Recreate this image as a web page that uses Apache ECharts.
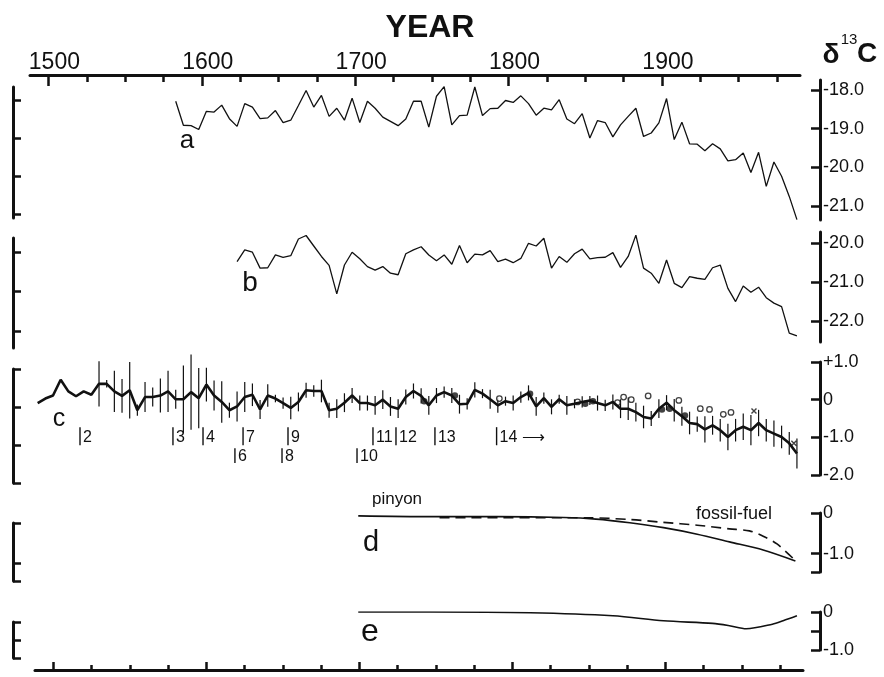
<!DOCTYPE html>
<html>
<head>
<meta charset="utf-8">
<script src="https://cdn.jsdelivr.net/npm/echarts@6/dist/echarts.min.js"></script>
<style>
  html, body { margin: 0; padding: 0; background: #fff; }
  #chart { width: 884px; height: 677px; }
</style>
</head>
<body>
<div id="chart"></div>
<script>
// ---- data ----
const centuryTicks = [1500, 1600, 1700, 1800, 1900];
const quarterTicks = [1525, 1550, 1575, 1625, 1650, 1675, 1725, 1750, 1775,
  1825, 1850, 1875, 1925, 1950, 1975];

// curve a: 5-year samples starting 1583
const aStart = 1583;
const aValues = [
  -18.29, -18.91, -18.92, -19.02, -18.55, -18.57, -18.39, -18.74, -18.94, -18.35,
  -18.44, -18.74, -18.72, -18.53, -18.84, -18.78, -18.40, -18.01, -18.44, -18.14,
  -18.68, -18.47, -18.78, -18.21, -18.84, -18.29, -18.47, -18.70, -18.81, -18.92,
  -18.75, -18.29, -18.29, -18.96, -18.16, -17.91, -18.90, -18.66, -18.65, -17.92,
  -18.66, -18.48, -18.47, -18.27, -18.32, -18.15, -18.35, -18.65, -18.47, -18.51,
  -18.25, -18.75, -18.87, -18.61, -19.24, -18.79, -18.84, -19.21, -18.90, -18.68,
  -18.47, -19.20, -19.11, -18.85, -18.22, -19.28, -18.83, -19.39, -19.40, -19.57,
  -19.39, -19.52, -19.83, -19.80, -19.63, -20.13, -19.61, -20.49, -19.86, -20.23,
  -20.75, -21.35
];

// curve b: 5-year samples starting 1623
const bStart = 1623;
const bValues = [
  -20.47, -20.17, -20.23, -20.64, -20.63, -20.30, -20.36, -20.32, -19.89, -19.80,
  -20.07, -20.34, -20.57, -21.30, -20.56, -20.23, -20.40, -20.60, -20.69, -20.60,
  -20.77, -20.81, -20.27, -20.17, -20.09, -20.30, -20.45, -20.30, -20.54, -20.06,
  -20.50, -20.28, -20.30, -20.19, -20.47, -20.41, -20.50, -20.39, -20.00, -20.07,
  -19.87, -20.64, -20.34, -20.49, -20.27, -20.15, -20.40, -20.37, -20.36, -20.24,
  -20.62, -20.34, -19.79, -20.64, -20.77, -21.03, -20.43, -21.03, -21.14, -20.86,
  -20.90, -20.93, -20.63, -20.56, -21.16, -21.50, -21.10, -21.26, -21.13, -21.40,
  -21.54, -21.63, -22.31, -22.38
];

// curve c: 5-year samples starting 1493, with half error bars
const cStart = 1493;
const cValues = [
  -0.09, 0.03, 0.11, 0.53, 0.22, 0.09, 0.22, 0.13, 0.42, 0.42,
  0.22, 0.10, 0.25, -0.28, 0.07, 0.07, 0.11, 0.22, 0.01, 0.01,
  0.20, 0.04, 0.40, 0.11, -0.06, -0.28, -0.18, 0.07, 0.13, -0.26,
  0.11, 0.03, -0.09, -0.22, -0.06, 0.25, 0.23, 0.23, -0.28, -0.24,
  -0.08, 0.11, -0.09, -0.09, -0.15, 0.00, -0.18, -0.24, 0.07, 0.23,
  0.10, -0.15, 0.11, 0.20, 0.11, -0.12, -0.11, 0.26, 0.16, 0.01,
  -0.15, -0.04, -0.09, 0.07, 0.18, -0.18, 0.04, -0.19, 0.01, -0.15,
  -0.11, -0.06, -0.02, -0.09, -0.15, -0.06, -0.24, -0.24, -0.33, -0.46,
  -0.50, -0.24, -0.08, -0.28, -0.44, -0.62, -0.65, -0.79, -0.68, -0.81,
  -0.99, -0.81, -0.72, -0.81, -0.62, -0.81, -0.90, -0.99, -1.16, -1.43
];
const cErrors = [
  0, 0, 0, 0, 0, 0, 0, 0, 0.6, 0.1,
  0.55, 0.45, 0.75, 0.15, 0.4, 0.25, 0.45, 0.55, 0.25, 0.9,
  1.0, 0.8, 0.45, 0.4, 0.55, 0.2, 0.4, 0.4, 0.3, 0.25,
  0.3, 0.1, 0.15, 0.3, 0.25, 0.2, 0.15, 0.3, 0.2, 0.25,
  0.25, 0.2, 0.2, 0.2, 0.25, 0.25, 0.25, 0.25, 0.2, 0.2,
  0.2, 0.25, 0.2, 0.15, 0.2, 0.25, 0.15, 0.2, 0.12, 0.25,
  0.2, 0.12, 0.2, 0.15, 0.2, 0.25, 0.15, 0.2, 0.12, 0.25,
  0.12, 0.15, 0.12, 0.2, 0.15, 0.2, 0.25, 0.3, 0.25, 0.3,
  0.2, 0.25, 0.2, 0.3, 0.25, 0.3, 0.2, 0.35, 0.25, 0.3,
  0.35, 0.3, 0.35, 0.4, 0.35, 0.3, 0.35, 0.3, 0.3, 0.4
];

// extra points on c
const dotYears = [1745, 1765, 1814, 1850, 1855, 1900, 1905, 1915];
const dotValues = [-0.04, 0.11, 0.16, -0.11, -0.04, -0.26, -0.24, -0.42];
const ringYears = [1794, 1845, 1871, 1875, 1880, 1891, 1911, 1925, 1931, 1940, 1945];
const ringValues = [0.03, -0.06, -0.08, 0.07, 0.0, 0.10, -0.02, -0.24, -0.26, -0.39, -0.34];
const crossYears = [1960, 1986];
const crossValues = [-0.30, -1.16];

// numbered markers under c (row 0 = upper, row 1 = lower)
const markYears = [1520.6, 1581.2, 1600.8, 1621.6, 1626.9, 1652.3, 1656.2, 1701.2, 1711.6, 1726.6, 1752, 1792.2];
const markRows = [0, 0, 0, 1, 0, 1, 0, 1, 0, 0, 0, 0];
const markLabels = ['2', '3', '4', '6', '7', '8', '9', '10', '11', '12', '13', '14 \u27f6'];

// d: pinyon and fossil-fuel curves
const pinyonYears = [1702, 1749, 1792, 1836, 1857, 1879, 1901, 1923, 1944, 1966, 1987];
const pinyonValues = [-0.07, -0.09, -0.09, -0.11, -0.15, -0.24, -0.36, -0.52, -0.71, -0.91, -1.18];
const fossilYears = [1755, 1851, 1879, 1901, 1923, 1944, 1957, 1966, 1975, 1987];
const fossilValues = [-0.115, -0.115, -0.16, -0.23, -0.30, -0.39, -0.44, -0.57, -0.76, -1.17];

// e
const eYears = [1702, 1749, 1814, 1868, 1901, 1933, 1944, 1955, 1972, 1979, 1988];
const eValues = [0, 0, -0.02, -0.10, -0.23, -0.30, -0.36, -0.44, -0.32, -0.23, -0.10];

// ---- chart ----
const ink = '#111';
const font = '"Liberation Sans", Arial, sans-serif';
const chart = echarts.init(document.getElementById('chart'));

const pairs = (xs, ys) => ys.map((v, i) => [xs[i], v]);
const sampled = (start, ys) => ys.map((v, i) => [start + 5 * i, v]);

const xBase = { type: 'value', min: 1488, max: 1990, splitLine: { show: false } };
const hiddenX = g => Object.assign({}, xBase, { gridIndex: g, show: false });

function rightAxis(g, min, max, ticks, labels, fmt) {
  return {
    type: 'value', gridIndex: g, position: 'right', offset: 20, min: min, max: max,
    axisLine: { show: true, onZero: false, lineStyle: { color: ink, width: 3 } },
    axisTick: { show: true, inside: true, length: 9, customValues: ticks, lineStyle: { color: ink, width: 2.5 } },
    axisLabel: { customValues: labels, margin: 3, formatter: fmt, fontSize: 18, color: ink, fontFamily: font },
    splitLine: { show: false }
  };
}
function leftAxis(g, min, max, ticks) {
  return {
    type: 'value', gridIndex: g, position: 'left', min: min, max: max,
    axisLine: { show: true, onZero: false, lineStyle: { color: ink, width: 3 } },
    axisTick: { show: true, inside: true, length: 8, customValues: ticks, lineStyle: { color: ink, width: 2.5 } },
    axisLabel: { show: false },
    splitLine: { show: false }
  };
}
const fix1 = v => v.toFixed(1);
const fixC = v => (v > 0 ? '+' + v.toFixed(1) : v === 0 ? '0' : v.toFixed(1));
const fixZ = v => (v === 0 ? '0' : v.toFixed(1));

const g = (left, right, top, height, width) => {
  const o = { left: left, top: top, height: height, outerBoundsMode: 'none' };
  if (width != null) o.width = width; else o.right = right;
  return o;
};

const lineStyleOf = w => ({ color: ink, width: w });

const option = {
  animation: false,
  backgroundColor: '#fff',
  textStyle: { fontFamily: font, color: ink },
  grid: [
    g(30, 84, 80, 140),   // a
    g(30, 84, 232, 110),  // b
    g(30, 84, 362, 113),  // c
    g(30, 84, 513, 59),   // d
    g(30, 84, 612, 38),   // e
    g(13, null, 87, 131, 60),
    g(13, null, 238, 110, 60),
    g(13, null, 369, 114, 60),
    g(13, null, 523, 58, 60),
    g(13, null, 622, 36, 60),
    g(35, 81, 620, 50)    // bottom year axis
  ],
  xAxis: [
    Object.assign({}, xBase, {
      gridIndex: 0, position: 'top', offset: 5,
      axisLine: { onZero: false, lineStyle: { color: ink, width: 3 } },
      axisTick: { inside: true, length: 11, customValues: centuryTicks, lineStyle: { color: ink, width: 2.5 } },
      axisLabel: {
        customValues: centuryTicks, margin: 1, fontSize: 23, color: ink, fontFamily: font,
        padding: [0, 0, 0, 12], formatter: v => String(v)
      }
    }),
    Object.assign({}, xBase, {
      gridIndex: 0, position: 'top', offset: 5,
      axisLine: { show: false },
      axisTick: { inside: true, length: 7, customValues: quarterTicks, lineStyle: { color: ink, width: 2.5 } },
      axisLabel: { show: false }
    }),
    hiddenX(1), hiddenX(2), hiddenX(3), hiddenX(4),
    hiddenX(5), hiddenX(6), hiddenX(7), hiddenX(8), hiddenX(9),
    Object.assign({}, xBase, {
      gridIndex: 10, position: 'bottom',
      axisLine: { onZero: false, lineStyle: { color: ink, width: 3 } },
      axisTick: { inside: true, length: 8, customValues: centuryTicks, lineStyle: { color: ink, width: 2.5 } },
      axisLabel: { show: false }
    }),
    Object.assign({}, xBase, {
      gridIndex: 10, position: 'bottom',
      axisLine: { show: false },
      axisTick: { inside: true, length: 5, customValues: quarterTicks, lineStyle: { color: ink, width: 2.5 } },
      axisLabel: { show: false }
    })
  ],
  yAxis: [
    rightAxis(0, -21.36, -17.74, [-18, -19, -20, -21], [-18, -19, -20, -21], fix1),
    rightAxis(1, -22.54, -19.71, [-20, -21, -22], [-20, -21, -22], fix1),
    rightAxis(2, -2, 1, [1, 0, -1, -2], [1, 0, -1, -2], fixC),
    rightAxis(3, -1.45, 0, [0, -1, -1.45], [0, -1], fixZ),
    rightAxis(4, -1, 0, [0, -0.5, -1], [0, -1], fixZ),
    leftAxis(5, -21.105, -17.66, [-18, -19, -20, -21]),
    leftAxis(6, -22.43, -19.65, [-20, -21, -22]),
    leftAxis(7, -2, 1, [1, 0, -1, -2]),
    leftAxis(8, -1.45, 0, [0, -1, -1.45]),
    leftAxis(9, -1, 0, [0, -0.5, -1]),
    { type: 'value', gridIndex: 10, show: false, min: 0, max: 1 }
  ],
  series: [
    {
      name: 'a', type: 'line', xAxisIndex: 0, yAxisIndex: 0, symbol: 'none', silent: true,
      data: sampled(aStart, aValues), lineStyle: lineStyleOf(1.3)
    },
    {
      name: 'b', type: 'line', xAxisIndex: 2, yAxisIndex: 1, symbol: 'none', silent: true,
      data: sampled(bStart, bValues), lineStyle: lineStyleOf(1.3)
    },
    {
      name: 'c errors', type: 'custom', xAxisIndex: 3, yAxisIndex: 2, silent: true,
      data: cValues.map((v, i) => [cStart + 5 * i, v, cErrors[i]]),
      renderItem: function (params, api) {
        const e = api.value(2);
        if (!e) return null;
        const x = api.value(0), v = api.value(1);
        const p1 = api.coord([x, v + e]);
        const p2 = api.coord([x, v - e]);
        return {
          type: 'line',
          shape: { x1: p1[0], y1: p1[1], x2: p2[0], y2: p2[1] },
          style: { stroke: ink, lineWidth: 1.2 }
        };
      }
    },
    {
      name: 'c', type: 'line', xAxisIndex: 3, yAxisIndex: 2, symbol: 'none', silent: true,
      data: sampled(cStart, cValues), lineStyle: lineStyleOf(2.6)
    },
    {
      name: 'c dots', type: 'scatter', xAxisIndex: 3, yAxisIndex: 2, silent: true,
      symbol: 'circle', symbolSize: 6.5, itemStyle: { color: ink },
      data: pairs(dotYears, dotValues)
    },
    {
      name: 'c rings', type: 'scatter', xAxisIndex: 3, yAxisIndex: 2, silent: true,
      symbol: 'circle', symbolSize: 5.5, itemStyle: { color: '#fff', borderColor: ink, borderWidth: 1.3 },
      data: pairs(ringYears, ringValues)
    },
    {
      name: 'c crosses', type: 'scatter', xAxisIndex: 3, yAxisIndex: 2, silent: true,
      symbol: 'path://M0,0L10,10M10,0L0,10', symbolSize: 5,
      itemStyle: { color: 'none', borderColor: ink, borderWidth: 1.4 },
      data: pairs(crossYears, crossValues)
    },
    {
      name: 'markers', type: 'custom', xAxisIndex: 3, yAxisIndex: 2, silent: true,
      data: markYears.map((y, i) => [y, markRows[i]]),
      renderItem: function (params, api) {
        const x = api.value(0);
        const row = api.value(1);
        const top = row ? -1.29 : -0.73;
        const bottom = row ? -1.68 : -1.21;
        const p1 = api.coord([x, top]);
        const p2 = api.coord([x, bottom]);
        return {
          type: 'group',
          children: [
            { type: 'line', shape: { x1: p1[0], y1: p1[1], x2: p2[0], y2: p2[1] }, style: { stroke: ink, lineWidth: 1.4 } },
            {
              type: 'text', x: p1[0] + 3, y: (p1[1] + p2[1]) / 2 + 1,
              style: {
                text: markLabels[params.dataIndex], fill: ink, font: '16px ' + font,
                textAlign: 'left', textVerticalAlign: 'middle', align: 'left', verticalAlign: 'middle'
              }
            }
          ]
        };
      }
    },
    {
      name: 'pinyon', type: 'line', xAxisIndex: 4, yAxisIndex: 3, symbol: 'none', silent: true,
      smooth: 0.3, data: pairs(pinyonYears, pinyonValues), lineStyle: lineStyleOf(1.6)
    },
    {
      name: 'fossil-fuel', type: 'line', xAxisIndex: 4, yAxisIndex: 3, symbol: 'none', silent: true,
      smooth: 0.3, data: pairs(fossilYears, fossilValues),
      lineStyle: { color: ink, width: 1.6, type: [10, 6] }
    },
    {
      name: 'e', type: 'line', xAxisIndex: 5, yAxisIndex: 4, symbol: 'none', silent: true,
      smooth: 0.3, data: pairs(eYears, eValues), lineStyle: lineStyleOf(1.6)
    }
  ],
  graphic: [
    { type: 'text', x: 430, y: 28, style: { text: 'YEAR', font: 'bold 32px ' + font, fill: ink, align: 'center', verticalAlign: 'middle', textAlign: 'center', textVerticalAlign: 'middle' } },
    { type: 'text', x: 831, y: 55, style: { text: '\u03b4', font: 'bold 28px ' + font, fill: ink, align: 'center', verticalAlign: 'middle', textAlign: 'center', textVerticalAlign: 'middle' } },
    { type: 'text', x: 849, y: 40, style: { text: '13', font: '15px ' + font, fill: ink, align: 'center', verticalAlign: 'middle', textAlign: 'center', textVerticalAlign: 'middle' } },
    { type: 'text', x: 867, y: 54, style: { text: 'C', font: 'bold 28px ' + font, fill: ink, align: 'center', verticalAlign: 'middle', textAlign: 'center', textVerticalAlign: 'middle' } },
    { type: 'text', x: 187, y: 141, style: { text: 'a', font: '26px ' + font, fill: ink, align: 'center', verticalAlign: 'middle', textAlign: 'center', textVerticalAlign: 'middle' } },
    { type: 'text', x: 250, y: 283, style: { text: 'b', font: '28px ' + font, fill: ink, align: 'center', verticalAlign: 'middle', textAlign: 'center', textVerticalAlign: 'middle' } },
    { type: 'text', x: 59, y: 419, style: { text: 'c', font: '25px ' + font, fill: ink, align: 'center', verticalAlign: 'middle', textAlign: 'center', textVerticalAlign: 'middle' } },
    { type: 'text', x: 371, y: 543, style: { text: 'd', font: '29px ' + font, fill: ink, align: 'center', verticalAlign: 'middle', textAlign: 'center', textVerticalAlign: 'middle' } },
    { type: 'text', x: 370, y: 632, style: { text: 'e', font: '32px ' + font, fill: ink, align: 'center', verticalAlign: 'middle', textAlign: 'center', textVerticalAlign: 'middle' } },
    { type: 'text', x: 397, y: 499, style: { text: 'pinyon', font: '17px ' + font, fill: ink, align: 'center', verticalAlign: 'middle', textAlign: 'center', textVerticalAlign: 'middle' } },
    { type: 'text', x: 734, y: 514, style: { text: 'fossil-fuel', font: '18px ' + font, fill: ink, align: 'center', verticalAlign: 'middle', textAlign: 'center', textVerticalAlign: 'middle' } }
  ]
};

chart.setOption(option);
</script>
</body>
</html>
